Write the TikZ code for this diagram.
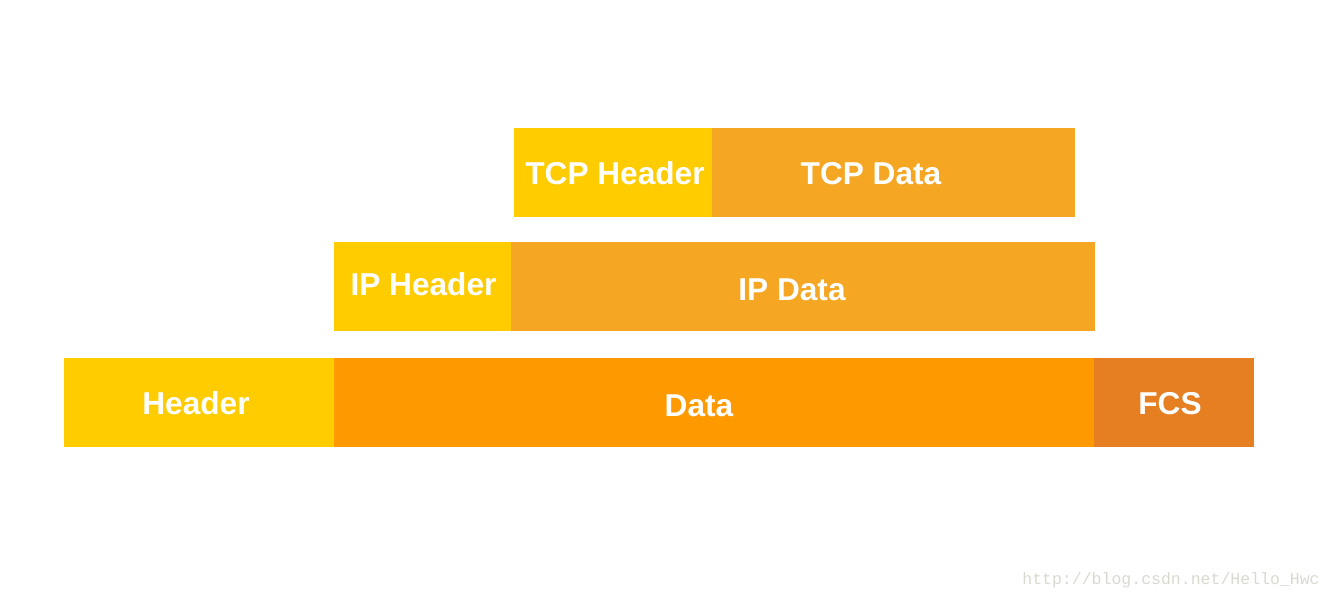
\documentclass[tikz,border=0pt]{standalone}
\usepackage{fontspec}
\setmainfont{Liberation Sans}
\newfontfamily\wmfont{Liberation Mono}
\usepackage{tikz}
\usetikzlibrary{positioning}

\definecolor{hdryellow}{HTML}{FFCC00}
\definecolor{pldorange}{HTML}{F5A623}
\definecolor{dataorange}{HTML}{FF9900}
\definecolor{fcsorange}{HTML}{E67E22}
\definecolor{wmgray}{HTML}{D9D9D2}

\tikzset{
	seg/.style={inner sep=0pt, minimum height=1.78cm, draw=none},
	lbl/.style={text=white, inner sep=0pt, font=\bfseries\fontsize{18}{20}\selectfont}
}

\begin{document}
\begin{tikzpicture}[x=0.02cm, y=-0.02cm]
				\useasboundingbox (0,0) rectangle (1334,600);
				% TCP segment
				\node[seg, fill=hdryellow, minimum width=3.96cm] (TCPH) at (613, 172.5) {};
				\node[seg, fill=pldorange, minimum width=7.26cm] (TCPD) at (893.5, 172.5) {};
				% IP packet
				\node[seg, fill=hdryellow, minimum width=3.54cm] (IPH) at (422.5, 286.5) {};
				\node[seg, fill=pldorange, minimum width=11.68cm] (IPD) at (803, 286.5) {};
				% frame
				\node[seg, fill=hdryellow, minimum width=5.4cm] (FH) at (199, 402.5) {};
				\node[seg, fill=dataorange, minimum width=15.2cm] (FD) at (714, 402.5) {};
				\node[seg, fill=fcsorange, minimum width=3.2cm] (FCS) at (1174, 402.5) {};
				% labels
				\node[lbl] (TCPHt) at (615, 173.5) {TCP Header};
				\node[lbl] (TCPDt) at (871, 174) {TCP Data};
				\node[lbl] (IPHt) at (423.5, 284) {IP Header};
				\node[lbl] (IPDt) at (792, 289.5) {IP Data};
				\node[lbl] (FHt) at (196, 403) {Header};
				\node[lbl] (FDt) at (699, 405.5) {Data};
				\node[lbl] (FCSt) at (1170, 403.5) {FCS};
				\node[text=wmgray, inner sep=0pt, font=\wmfont\fontsize{9.4}{11}\selectfont] (WM) at (1171, 580) {http://blog.csdn.net/Hello\_Hwc};
			\end{tikzpicture}
\end{document}
